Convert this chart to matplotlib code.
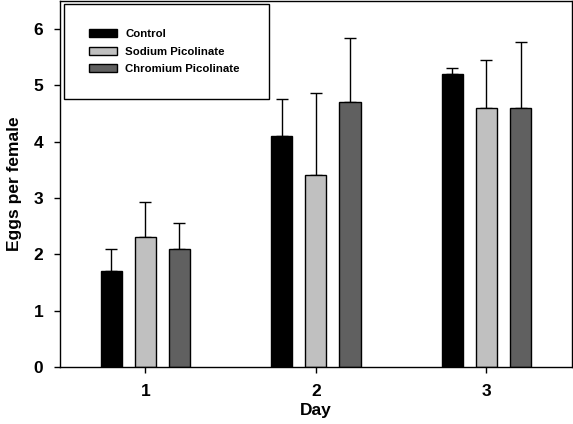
import numpy as np
import matplotlib
matplotlib.use("Agg")
import matplotlib.pyplot as plt

plt.rcParams["font.family"] = ["Liberation Sans", "DejaVu Sans"]
plt.rcParams["font.weight"] = "bold"

days = [1, 2, 3]
day_labels = ["1", "2", "3"]
groups = ["Control", "Sodium Picolinate", "Chromium Picolinate"]
control = [1.7, 4.1, 5.2]
control_err = [0.40, 0.65, 0.10]
sodium = [2.3, 3.4, 4.6]
sodium_err = [0.62, 1.47, 0.85]
chromium = [2.1, 4.7, 4.6]
chromium_err = [0.45, 1.14, 1.17]

colors = ["#000000", "#c0c0c0", "#606060"]
w, off = 0.125, 0.2

fig = plt.figure(figsize=(5.73, 4.24), dpi=100)
ax = fig.add_axes([0.1047, 0.1344, 0.893, 0.864])

x = np.array(days, dtype=float)
series = [(control, control_err), (sodium, sodium_err), (chromium, chromium_err)]
for i, ((vals, errs), name) in enumerate(zip(series, groups)):
    ax.bar(x + (i - 1) * off, vals, w, color=colors[i], edgecolor="black",
           linewidth=1.0, label=name, zorder=2)
    ax.errorbar(x + (i - 1) * off, vals, yerr=[np.zeros(3), errs], fmt="none",
                ecolor="black", elinewidth=1.0, capsize=4, capthick=1.0, zorder=1)

ax.set_xlim(0.5, 3.5)
ax.set_ylim(0, 6.5)
ax.set_xticks(days)
ax.set_xticklabels(day_labels)
ax.set_yticks(range(7))
ax.tick_params(axis="both", direction="out", length=4, width=1, labelsize=12.5)
ax.tick_params(axis="y", pad=8)
ax.tick_params(axis="x", pad=8)
for sp in ax.spines.values():
    sp.set_linewidth(1.0)
ax.set_xlabel("Day", fontsize=12.5, fontweight="bold", labelpad=3)
ax.set_ylabel("Eggs per female", fontsize=12.5, fontweight="bold", labelpad=8)

leg = ax.legend(loc="upper left", bbox_to_anchor=(0.008, 0.99, 0.40, 0.0),
                mode="expand", fontsize=8.2, frameon=True, fancybox=False,
                edgecolor="black", framealpha=1, borderpad=2.15,
                handlelength=2.5, handleheight=0.7, handletextpad=0.7,
                labelspacing=0.68, borderaxespad=0)
leg.get_frame().set_linewidth(1.0)
for t in leg.get_texts():
    t.set_fontweight("bold")

fig.savefig("out.png", dpi=100)
